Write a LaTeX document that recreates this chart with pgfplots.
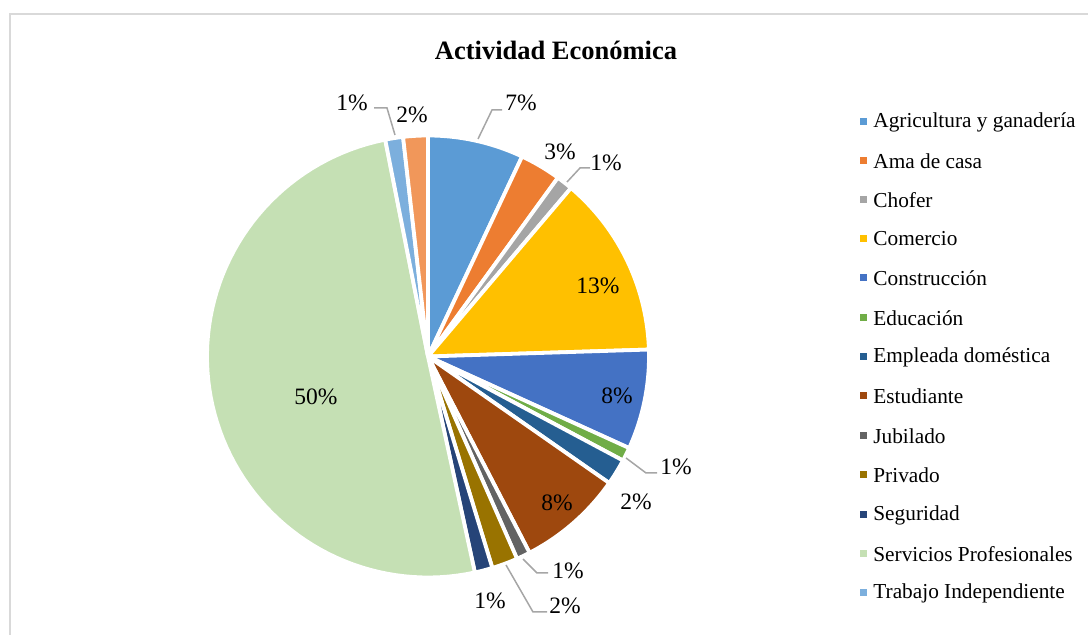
\documentclass[border=0pt]{standalone}
\usepackage{pgfplots}
\pgfplotsset{compat=1.18}
\usepackage{fontspec}
\setmainfont{Liberation Serif}
\definecolor{c1}{HTML}{5B9BD5}
\definecolor{c2}{HTML}{ED7D31}
\definecolor{c3}{HTML}{A5A5A5}
\definecolor{c4}{HTML}{FFC000}
\definecolor{c5}{HTML}{4472C4}
\definecolor{c6}{HTML}{70AD47}
\definecolor{c7}{HTML}{255E91}
\definecolor{c8}{HTML}{9E480E}
\definecolor{c9}{HTML}{636363}
\definecolor{c10}{HTML}{997300}
\definecolor{c11}{HTML}{264478}
\definecolor{c12}{HTML}{C5E0B4}
\definecolor{c13}{HTML}{7CAFDD}
\definecolor{c14}{HTML}{F1975A}
\definecolor{frame}{HTML}{D9D9D9}
\definecolor{leader}{HTML}{A6A6A6}
\newcommand\lab{\fontsize{11.75}{14}\selectfont}
\newcommand\leg{\fontsize{10.65}{13}\selectfont}
\newcommand\ttl{\fontsize{13.25}{16}\selectfont\bfseries}
\xdef\cum{0}
\newcommand\slice[2]{%
  \pgfmathsetmacro\sa{\cum*3.6}%
  \pgfmathsetmacro\sb{(\cum+#1)*3.6}%
  \pgfmathsetmacro\newcum{\cum+#1}%
  \xdef\cum{\newcum}%
  \edef\temp{\noexpand\addplot[draw=white,line width=1.9pt,line join=round,fill=#2,domain=\sa:\sb,samples=80] ({428+221*sin(x)},{356.5-221*cos(x)}) -- (axis cs:428,356.5) -- cycle;}%
  \temp}
\newcommand\legitem[3]{%
  \fill[#2] (axis cs:859.5,#1-3.5) rectangle (axis cs:866.5,#1+3.5);
  \node[anchor=west,font=\leg,inner sep=0pt] at (axis cs:873,#1) {#3};}
\begin{document}
\begin{tikzpicture}
\useasboundingbox (0,0) rectangle (544pt,317.5pt);
\begin{axis}[width=544pt,height=317.5pt,scale only axis,hide axis,clip=false,
  xmin=0,xmax=1088,ymin=0,ymax=635,y dir=reverse]
% frame
\draw[frame,line width=1pt] (axis cs:10,640) -- (axis cs:10,14) -- (axis cs:1095,14);
% slices: value (percent), colour
\slice{7.0}{c1}   % Agricultura y ganaderia
\slice{3.0}{c2}   % Ama de casa
\slice{1.2}{c3}   % Chofer
\slice{13.3}{c4}  % Comercio
\slice{7.3}{c5}   % Construccion
\slice{1.0}{c6}   % Educacion
\slice{1.9}{c7}   % Empleada domestica
\slice{7.7}{c8}   % Estudiante
\slice{1.0}{c9}   % Jubilado
\slice{1.9}{c10}  % Privado
\slice{1.3}{c11}  % Seguridad
\slice{50.3}{c12} % Servicios Profesionales
\slice{1.3}{c13}  % Trabajo Independiente
\slice{1.8}{c14}  % (sin leyenda)
% title
\node[font=\ttl] at (axis cs:556,50) {Actividad Económica};
% leader lines
\draw[leader,line width=0.75pt] (axis cs:395,135) -- (axis cs:387,108) -- (axis cs:374,108);
\draw[leader,line width=0.75pt] (axis cs:478,139) -- (axis cs:492,110) -- (axis cs:502,110);
\draw[leader,line width=0.75pt] (axis cs:567,182) -- (axis cs:580,168) -- (axis cs:590,168);
\draw[leader,line width=0.75pt] (axis cs:626,458) -- (axis cs:646,473) -- (axis cs:657,473);
\draw[leader,line width=0.75pt] (axis cs:523,559) -- (axis cs:537,573) -- (axis cs:548,573);
\draw[leader,line width=0.75pt] (axis cs:506,565) -- (axis cs:533,612) -- (axis cs:547,612);
% data labels
\node[font=\lab] at (axis cs:352,103) {1\%};
\node[font=\lab] at (axis cs:412,115) {2\%};
\node[font=\lab] at (axis cs:521,103) {7\%};
\node[font=\lab] at (axis cs:560,152) {3\%};
\node[font=\lab] at (axis cs:606,163) {1\%};
\node[font=\lab] at (axis cs:598,286) {13\%};
\node[font=\lab] at (axis cs:617,396) {8\%};
\node[font=\lab] at (axis cs:676,467) {1\%};
\node[font=\lab] at (axis cs:636,502) {2\%};
\node[font=\lab] at (axis cs:557,503) {8\%};
\node[font=\lab] at (axis cs:568,571) {1\%};
\node[font=\lab] at (axis cs:565,606) {2\%};
\node[font=\lab] at (axis cs:490,601) {1\%};
\node[font=\lab] at (axis cs:316,397) {50\%};
% legend
\legitem{122}{c1}{Agricultura y ganadería}
\legitem{161}{c2}{Ama de casa}
\legitem{200}{c3}{Chofer}
\legitem{239}{c4}{Comercio}
\legitem{278}{c5}{Construcción}
\legitem{318}{c6}{Educación}
\legitem{357}{c7}{Empleada doméstica}
\legitem{396}{c8}{Estudiante}
\legitem{436}{c9}{Jubilado}
\legitem{475}{c10}{Privado}
\legitem{515}{c11}{Seguridad}
\legitem{554}{c12}{Servicios Profesionales}
\legitem{593}{c13}{Trabajo Independiente}
\end{axis}
\end{tikzpicture}
\end{document}
